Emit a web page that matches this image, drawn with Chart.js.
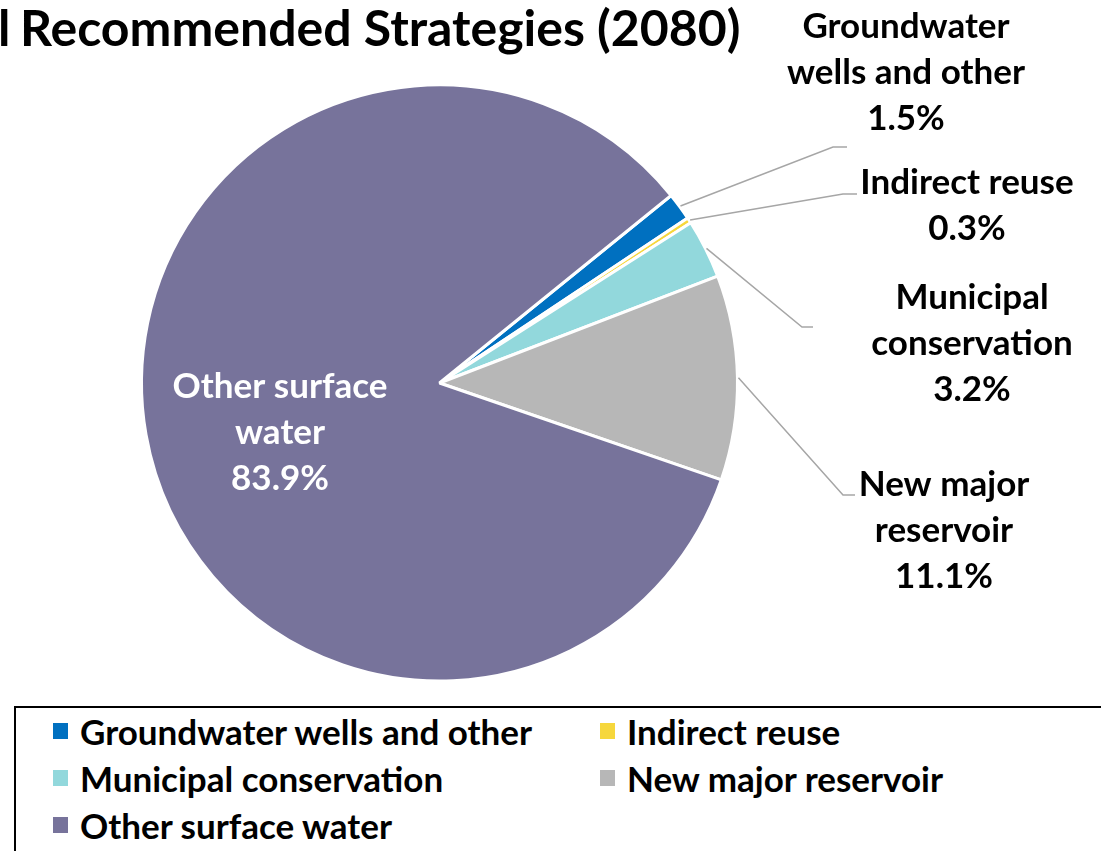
<!DOCTYPE html>
<html>
<head>
<meta charset="utf-8">
<script src="https://cdn.jsdelivr.net/npm/chart.js@4.4.1/dist/chart.umd.min.js"></script>
<style>
  html, body { margin: 0; padding: 0; background: #fff; overflow: hidden; }
  body { width: 1101px; height: 851px; position: relative; font-family: Lato, 'Open Sans', sans-serif; }
  #titulo { position: absolute; left: 20px; top: -3px; font-size: 50px; font-weight: 700; color: #000; white-space: nowrap; }
  #titulo .corte { position: absolute; left: -22px; top: 0; }
  #grafico { position: absolute; left: 0; top: 0; }
  #legenda { position: absolute; left: 14px; top: 706px; width: 1200px; height: 200px; border: 2px solid #000; box-sizing: border-box; }
  .item { position: absolute; display: flex; align-items: center; font-size: 35px; font-weight: 700; color: #000; white-space: nowrap; }
  .item .cor { width: 15px; height: 16px; margin-right: 12px; }
</style>
</head>
<body>
<div id="titulo"><span class="corte">l</span>Recommended Strategies (2080)</div>
<canvas id="grafico" width="1101" height="700"></canvas>
<div id="legenda"></div>
<script>
const categorias = ['Groundwater wells and other', 'Indirect reuse', 'Municipal conservation', 'New major reservoir', 'Other surface water'];
const percentuais = [1.5, 0.3, 3.2, 11.1, 83.9];
const cores = ['#0070C0', '#F6D73C', '#92D8DC', '#B7B7B7', '#77739B'];
const rotulos = [
  ['Groundwater', 'wells and other', '1.5%'],
  ['Indirect reuse', '0.3%'],
  ['Municipal', 'conservation', '3.2%'],
  ['New major', 'reservoir', '11.1%'],
  ['Other surface', 'water', '83.9%']
];

// posição dos rótulos (centro do texto, primeira linha) e das linhas de chamada
const layoutRotulos = [
  { x: 906, y: 27, cotovelo: [833, 147], fim: [847, 147] },
  { x: 967, y: 183, cotovelo: [843, 194], fim: [857, 194] },
  { x: 972, y: 298, cotovelo: [802, 327], fim: [813, 327] },
  { x: 944, y: 485, cotovelo: [843, 495], fim: [855, 495] },
  { x: 280, y: 387, interno: true }
];
const alturaLinha = 46;
const fonteRotulo = "700 35px Lato, 'Open Sans', sans-serif";

const pluginRotulos = {
  id: 'rotulos',
  afterDatasetsDraw(chart) {
    const ctx = chart.ctx;
    const meta = chart.getDatasetMeta(0);
    ctx.save();
    meta.data.forEach((arc, i) => {
      const lay = layoutRotulos[i];
      const { x, y, startAngle, endAngle, outerRadius } = arc.getProps(['x', 'y', 'startAngle', 'endAngle', 'outerRadius'], true);
      if (!lay.interno) {
        const meio = (startAngle + endAngle) / 2;
        const px = x + Math.cos(meio) * (outerRadius + 1);
        const py = y + Math.sin(meio) * (outerRadius + 1);
        ctx.beginPath();
        ctx.strokeStyle = '#A6A6A6';
        ctx.lineWidth = 1.5;
        ctx.moveTo(px, py);
        ctx.lineTo(lay.cotovelo[0], lay.cotovelo[1]);
        ctx.lineTo(lay.fim[0], lay.fim[1]);
        ctx.stroke();
      }
      ctx.font = fonteRotulo;
      ctx.fillStyle = lay.interno ? '#fff' : '#000';
      ctx.textAlign = 'center';
      ctx.textBaseline = 'middle';
      rotulos[i].forEach((linha, j) => {
        ctx.fillText(linha, lay.x, lay.y + j * alturaLinha);
      });
    });
    ctx.restore();
  }
};

new Chart(document.getElementById('grafico'), {
  type: 'pie',
  data: {
    labels: categorias,
    datasets: [{
      data: percentuais,
      backgroundColor: cores,
      borderColor: '#fff',
      borderWidth: 3
    }]
  },
  options: {
    responsive: false,
    devicePixelRatio: 1,
    animation: false,
    rotation: 51,
    layout: { padding: { left: 140, top: 83, right: 362, bottom: 17 } },
    plugins: {
      legend: { display: false },
      tooltip: { enabled: false }
    }
  },
  plugins: [pluginRotulos]
});

// legenda em HTML
const legenda = document.getElementById('legenda');
const posLegenda = [[37, 26], [584, 26], [37, 73], [584, 73], [37, 120]];
categorias.forEach((nome, i) => {
  const div = document.createElement('div');
  div.className = 'item';
  div.style.left = posLegenda[i][0] + 'px';
  div.style.top = (posLegenda[i][1] - 24) + 'px';
  div.innerHTML = `<span class="cor" style="background:${cores[i]}"></span>${nome}`;
  legenda.appendChild(div);
});
</script>
</body>
</html>
